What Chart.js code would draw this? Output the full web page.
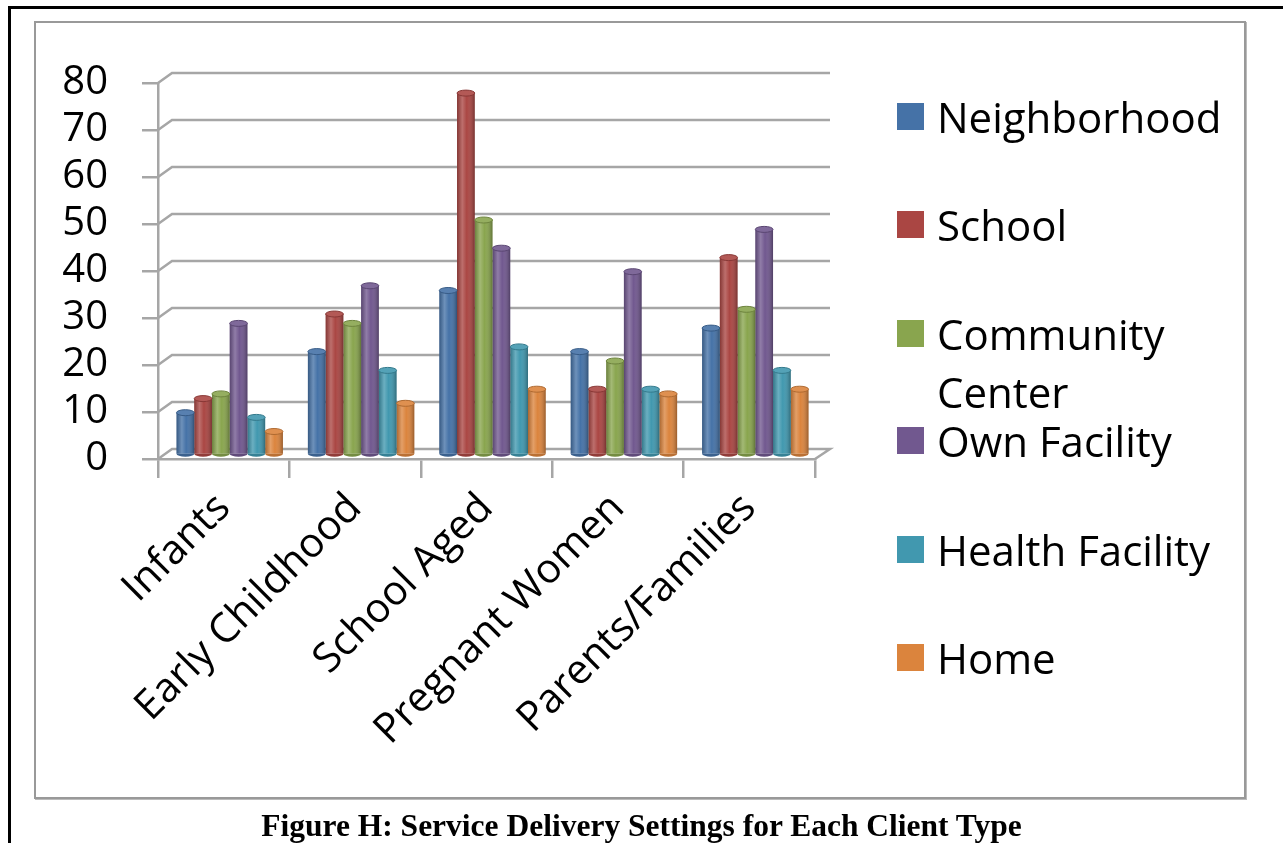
<!DOCTYPE html>
<html lang="en">
<head>
    <meta charset="UTF-8">
    <title>Figure H: Service Delivery Settings for Each Client Type</title>
    <style>
        html, body {
            margin: 0;
            padding: 0;
            background: #fff;
            width: 1283px;
            height: 843px;
            overflow: hidden;
            font-family: "Open Sans", sans-serif;
        }

        .page-frame {
            position: absolute;
            left: 8px;
            top: 6px;
            width: 1400px;
            height: 900px;
            border-left: 3px solid #000;
            border-top: 3px solid #000;
        }

        .chart-box {
            position: absolute;
            left: 34px;
            top: 21px;
            width: 1208px;
            height: 774px;
            border: 2px solid #999;
            box-shadow: 1px 1px 0 #bbb;
        }

        #chart {
            position: absolute;
            left: 0;
            top: 0;
        }

        .legend {
            position: absolute;
            left: 897px;
            top: 0;
        }

        .legend-item {
            position: absolute;
            left: 0;
            width: 330px;
            display: flex;
            align-items: flex-start;
            font-size: 42px;
            line-height: 58px;
            color: #000;
        }

        .legend-item .box {
            width: 27px;
            height: 27px;
            margin-top: 15px;
            margin-right: 13px;
            flex: none;
        }

        .legend-item .text {
            width: 290px;
        }

        .caption {
            position: absolute;
            left: 0;
            width: 1283px;
            top: 808px;
            text-align: center;
            font-family: "Liberation Serif", "Times New Roman", serif;
            font-weight: bold;
            font-size: 31.5px;
        }
    </style>
</head>
<body>

    <div class="page-frame"></div>
    <div class="chart-box"></div>
    <canvas id="chart" width="1283" height="843"></canvas>
    <div class="legend" id="legend"></div>
    <div class="caption">Figure H: Service Delivery Settings for Each Client Type</div>

    <script src="https://cdn.jsdelivr.net/npm/chart.js@4.4.0/dist/chart.umd.min.js"></script>
    <script>
    // Dữ liệu
    const categories = ['Infants', 'Early Childhood', 'School Aged', 'Pregnant Women', 'Parents/Families'];
    const seriesNames = ['Neighborhood', 'School', 'Community Center', 'Own Facility', 'Health Facility', 'Home'];
    const neighborhood = [9, 22, 35, 22, 27];
    const school = [12, 30, 77, 14, 42];
    const communityCenter = [13, 28, 50, 20, 31];
    const ownFacility = [28, 36, 44, 39, 48];
    const healthFacility = [8, 18, 23, 14, 18];
    const home = [5, 11, 14, 13, 14];
    const yTicks = [0, 10, 20, 30, 40, 50, 60, 70, 80];

    const seriesValues = [neighborhood, school, communityCenter, ownFacility, healthFacility, home];
    const colors = ['#4572A7', '#AA4643', '#89A54E', '#71588F', '#4198AF', '#DB843D'];
    const gridColor = '#a6a6a6';

    // Độ sâu giả 3D
    const depthX = 14, depthY = 10;

    function shade(hex, amt) {
        const n = parseInt(hex.slice(1), 16);
        let r = n >> 16, g = (n >> 8) & 255, b = n & 255;
        const t = amt < 0 ? 0 : 255, p = Math.abs(amt);
        r = Math.round(r + (t - r) * p);
        g = Math.round(g + (t - g) * p);
        b = Math.round(b + (t - b) * p);
        return `rgb(${r},${g},${b})`;
    }

    // Vẽ tường sau + lưới lệch
    const wallPlugin = {
        id: 'wall',
        beforeDatasetsDraw(chart) {
            const { ctx, chartArea, scales } = chart;
            const y = scales.y;
            ctx.save();
            ctx.strokeStyle = gridColor;
            ctx.lineWidth = 2.5;
            yTicks.forEach(v => {
                const py = y.getPixelForValue(v);
                ctx.beginPath();
                ctx.moveTo(chartArea.left, py);
                ctx.lineTo(chartArea.left + depthX, py - depthY);
                ctx.lineTo(chartArea.right + depthX + 1, py - depthY);
                if (v === 0) ctx.lineTo(chartArea.right, py);
                ctx.stroke();
            });
            ctx.restore();
            // dịch cột vào giữa chiều sâu
            ctx.save();
            ctx.translate(6, -4);
        },
        afterDatasetsDraw(chart) {
            const { ctx } = chart;
            chart.data.datasets.forEach((ds, di) => {
                const meta = chart.getDatasetMeta(di);
                meta.data.forEach(bar => {
                    const w = bar.width, x0 = bar.x - w / 2;
                    const grad = ctx.createLinearGradient(x0, 0, x0 + w, 0);
                    grad.addColorStop(0, 'rgba(0,0,0,0.22)');
                    grad.addColorStop(0.3, 'rgba(255,255,255,0.22)');
                    grad.addColorStop(0.55, 'rgba(255,255,255,0)');
                    grad.addColorStop(1, 'rgba(0,0,0,0.3)');
                    ctx.fillStyle = grad;
                    ctx.fillRect(x0, bar.y, w, bar.base - bar.y);
                    // đáy tròn
                    ctx.beginPath();
                    ctx.ellipse(bar.x, bar.base, w / 2, 3, 0, 0, Math.PI);
                    ctx.fillStyle = shade(colors[di], -0.15);
                    ctx.fill();
                    // nắp trên
                    ctx.beginPath();
                    ctx.ellipse(bar.x, bar.y, w / 2, 3, 0, 0, Math.PI * 2);
                    ctx.fillStyle = shade(colors[di], 0.1);
                    ctx.fill();
                    ctx.strokeStyle = shade(colors[di], -0.2);
                    ctx.lineWidth = 1;
                    ctx.stroke();
                });
            });
            ctx.restore();
        }
    };

    const chart = new Chart(document.getElementById('chart').getContext('2d'), {
        type: 'bar',
        data: {
            labels: categories,
            datasets: seriesNames.map((name, i) => ({
                label: name,
                data: seriesValues[i],
                backgroundColor: colors[i],
                borderWidth: 0,
                categoryPercentage: 0.81,
                barPercentage: 1
            }))
        },
        options: {
            responsive: false,
            animation: false,
            layout: { padding: { left: 0, top: 83, right: 468, bottom: 84 } },
            plugins: {
                legend: { display: false },
                tooltip: { enabled: false }
            },
            scales: {
                x: {
                    afterFit: s => { s.height = 300; },
                    grid: { display: true, drawOnChartArea: false, tickLength: 19, color: gridColor, lineWidth: 2.5 },
                    border: { display: true, color: gridColor, width: 2.5 },
                    ticks: {
                        minRotation: 45,
                        maxRotation: 45,
                        autoSkip: false,
                        color: '#000',
                        padding: 6,
                        font: { family: 'Open Sans', size: 41 }
                    }
                },
                y: {
                    min: 0,
                    max: 80,
                    afterFit: s => { s.width = 158; },
                    afterBuildTicks: s => { s.ticks = yTicks.map(v => ({ value: v })); },
                    grid: { display: true, drawOnChartArea: false, tickLength: 16, color: gridColor, lineWidth: 2.5 },
                    border: { display: true, color: gridColor, width: 2.5 },
                    ticks: {
                        autoSkip: false,
                        stepSize: 10,
                        color: '#000',
                        padding: 34,
                        font: { family: 'Open Sans', size: 40 }
                    }
                }
            }
        },
        plugins: [wallPlugin]
    });

    // Chú giải HTML
    const legendTops = [117, 225, 334, 441, 550, 658];
    const legend = document.getElementById('legend');
    seriesNames.forEach((name, i) => {
        const item = document.createElement('div');
        item.className = 'legend-item';
        item.style.top = (legendTops[i] - 29) + 'px';
        item.innerHTML = `<span class="box" style="background:${colors[i]}"></span><span class="text">${name}</span>`;
        legend.appendChild(item);
    });
    </script>

</body>
</html>
